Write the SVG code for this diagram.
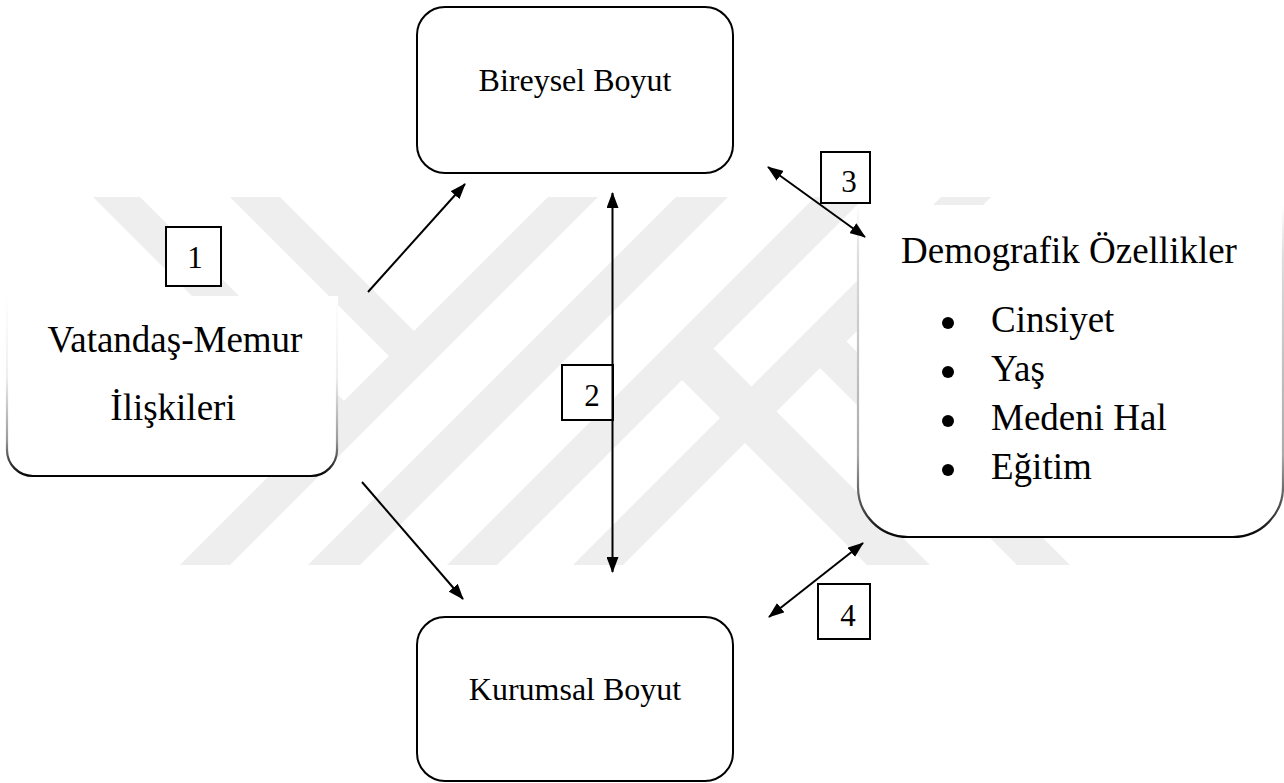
<svg xmlns="http://www.w3.org/2000/svg" width="1284" height="783" viewBox="0 0 1284 783">
<style>
.t{font-family:"Liberation Serif","Times New Roman",serif;fill:#000}
.big{font-size:37px}
.mid{font-size:32px}
.num{font-size:31px}
.box{fill:#fff;stroke:#000;stroke-width:2}
.nb{fill:#fff;stroke:#000;stroke-width:2}
.wm{fill:#eeeeee}
.ln{stroke:#000;stroke-width:2;fill:none}
</style>
<defs>
<marker id="ah" viewBox="0 0 16 12" markerWidth="16" markerHeight="12" refX="15" refY="6" orient="auto-start-reverse" markerUnits="userSpaceOnUse">
<path d="M0,0 L16,6 L0,12 z" fill="#000"/>
</marker>
<linearGradient id="fadeL" gradientUnits="userSpaceOnUse" x1="0" y1="296" x2="0" y2="477">
<stop offset="0" stop-color="#fff"/>
<stop offset="0.45" stop-color="#eee"/>
<stop offset="0.8" stop-color="#999"/>
<stop offset="0.95" stop-color="#222"/>
<stop offset="1" stop-color="#000"/>
</linearGradient>
<linearGradient id="fadeR" gradientUnits="userSpaceOnUse" x1="0" y1="205" x2="0" y2="538">
<stop offset="0" stop-color="#fff"/>
<stop offset="0.15" stop-color="#ddd"/>
<stop offset="0.75" stop-color="#aaa"/>
<stop offset="0.92" stop-color="#444"/>
<stop offset="1" stop-color="#000"/>
</linearGradient>
</defs>
<rect width="1284" height="783" fill="#fff"/>
<g id="watermark">
<polygon class="wm" points="548,197 598,197 230,565 180,565"/>
<polygon class="wm" points="676,197 728,197 360,565 308,565"/>
<polygon class="wm" points="815,197 865,197 497,565 447,565"/>
<polygon class="wm" points="941,197 991,197 623,565 573,565"/>
<polygon class="wm" points="93,197 140,197 356.5,413.5 333,437"/>
<polygon class="wm" points="230,197 280,197 426.5,343.5 401.5,368.5"/>
<polygon class="wm" points="702.5,337.5 930,565 867,565 671,369"/>
<polygon class="wm" points="835,330 1070,565 1017,565 808.5,356.5"/>
</g>
<g id="node-bireysel">
<rect class="box" x="417" y="7" width="316" height="166" rx="28" ry="28"/>
<text class="t mid" x="575" y="91" text-anchor="middle">Bireysel Boyut</text>
</g>
<g id="node-kurumsal">
<rect class="box" x="417" y="617" width="316" height="164" rx="28" ry="28"/>
<text class="t mid" x="575" y="700" text-anchor="middle">Kurumsal Boyut</text>
</g>
<g id="node-vatandas">
<path d="M7,296 V450 A26,26 0 0 0 33,476 H311 A26,26 0 0 0 337,450 V296 Z" fill="#fff"/>
<path d="M7,296 V450 A26,26 0 0 0 33,476 H311 A26,26 0 0 0 337,450 V296" fill="none" stroke="url(#fadeL)" stroke-width="2.2"/>
<text class="t big" x="175" y="352" text-anchor="middle">Vatandaş-Memur</text>
<text class="t big" x="173" y="420" text-anchor="middle">İlişkileri</text>
</g>
<g id="node-demografik">
<path d="M858,205 V487 A50,50 0 0 0 908,537 H1233 A50,50 0 0 0 1283,487 V205 Z" fill="#fff"/>
<path d="M858,205 V487 A50,50 0 0 0 908,537 H1233 A50,50 0 0 0 1283,487 V205" fill="none" stroke="url(#fadeR)" stroke-width="2.2"/>
<text class="t big" x="901" y="263">Demografik Özellikler</text>
<circle cx="948" cy="323" r="6"/>
<circle cx="948" cy="372" r="6"/>
<circle cx="948" cy="421" r="6"/>
<circle cx="948" cy="470" r="6"/>
<text class="t big" x="991" y="332">Cinsiyet</text>
<text class="t big" x="991" y="381">Yaş</text>
<text class="t big" x="991" y="430">Medeni Hal</text>
<text class="t big" x="991" y="479">Eğitim</text>
</g>
<g id="label-1">
<rect class="nb" x="166" y="227" width="55" height="59"/>
<text class="t num" x="195" y="268" text-anchor="middle">1</text>
</g>
<g id="label-2">
<rect class="nb" x="562" y="365" width="51" height="55"/>
<text class="t num" x="592" y="406" text-anchor="middle">2</text>
</g>
<g id="label-3">
<rect class="nb" x="821" y="152" width="49" height="51"/>
<text class="t num" x="849" y="192" text-anchor="middle">3</text>
</g>
<g id="label-4">
<rect class="nb" x="818" y="584" width="52" height="55"/>
<text class="t num" x="848" y="626" text-anchor="middle">4</text>
</g>
<g id="connectors">
<line class="ln" x1="368" y1="292" x2="465" y2="184" marker-end="url(#ah)"/>
<line class="ln" x1="362" y1="482" x2="463" y2="599" marker-end="url(#ah)"/>
<line class="ln" x1="612.5" y1="193" x2="612.5" y2="572" marker-start="url(#ah)" marker-end="url(#ah)"/>
<line class="ln" x1="768" y1="167" x2="865" y2="237" marker-start="url(#ah)" marker-end="url(#ah)"/>
<line class="ln" x1="769" y1="617" x2="863" y2="543" marker-start="url(#ah)" marker-end="url(#ah)"/>
</g>
</svg>
